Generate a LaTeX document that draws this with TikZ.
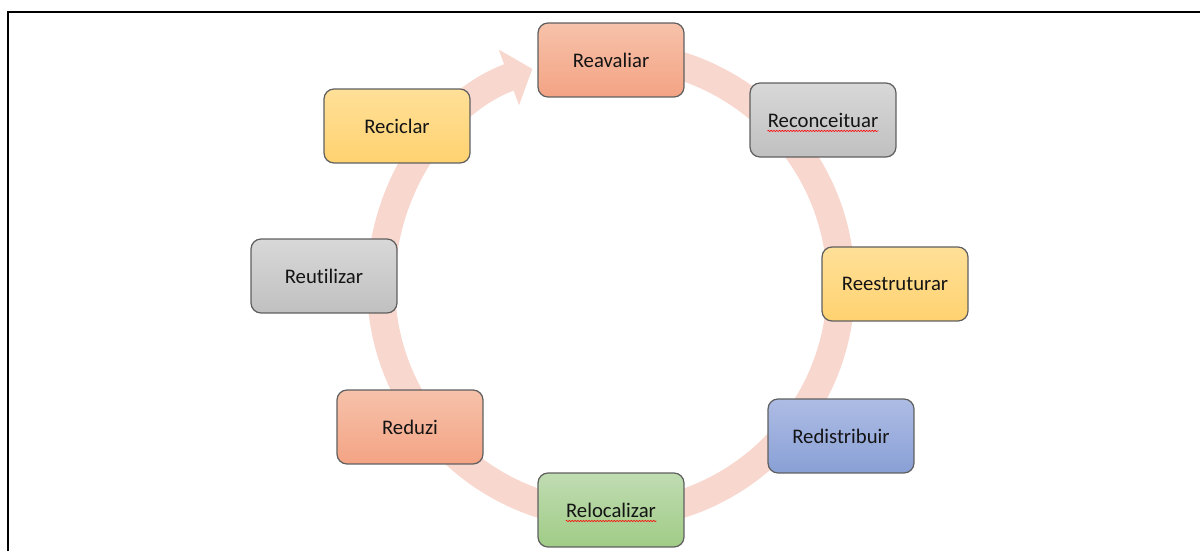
\documentclass[tikz,border=0pt]{standalone}
\usepackage{fontspec}
\setmainfont{Carlito}[Ligatures=NoCommon]
\usetikzlibrary{arrows.meta,decorations.pathmorphing}
\definecolor{ringc}{RGB}{248,216,206}
\definecolor{boxline}{RGB}{95,95,95}
\definecolor{orT}{RGB}{246,194,170}
\definecolor{orB}{RGB}{244,163,132}
\definecolor{grT}{RGB}{216,216,216}
\definecolor{grB}{RGB}{192,192,192}
\definecolor{goT}{RGB}{255,224,152}
\definecolor{goB}{RGB}{255,210,112}
\definecolor{blT}{RGB}{174,188,228}
\definecolor{blB}{RGB}{137,160,214}
\definecolor{gnT}{RGB}{192,220,178}
\definecolor{gnB}{RGB}{160,204,134}
\begin{document}
\begin{tikzpicture}[x=0.02cm,y=-0.02cm,
  box/.style={draw=boxline, line width=0.7pt, rounded corners=0.2cm,
    minimum width=2.92cm, minimum height=1.48cm, inner sep=0pt,
    font=\fontsize{11.8}{14}\selectfont, text={black!92}},
  txt/.style={inner sep=0pt, font=\fontsize{11.8}{14}\selectfont, text={black!92}},
  orbox/.style={box, top color=orT, bottom color=orB},
  grbox/.style={box, top color=grT, bottom color=grB},
  gobox/.style={box, top color=goT, bottom color=goB},
  blbox/.style={box, top color=blT, bottom color=blB},
  gnbox/.style={box, top color=gnT, bottom color=gnB},
  spell/.style={draw=red, line width=0.35pt, decorate,
    decoration={snake, amplitude=0.35pt, segment length=1.6pt}},
  ring/.style={draw=ringc, line width=0.56cm,
    -{Triangle[length=0.5cm, width=1.16cm, fill=ringc]}}]
\useasboundingbox (0,0) rectangle (1200,551);
\draw[line width=1.2pt] (8,551) -- (8,12) -- (1200,12);
\coordinate (ringstart) at (611,55);
\draw[ring] (ringstart) arc[start angle=-90, end angle=250, radius=230];
\node[orbox] (reav) at (611,60) {Reavaliar};
\node[grbox] (reco) at (823,120) {};
\node[txt] (recot) at (reco.center) {Reconceituar};
\draw[spell] ([yshift=-2.2pt]recot.base west) -- ([yshift=-2.2pt]recot.base east);
\node[gobox] (rees) at (895,284) {Reestruturar};
\node[blbox] (redi) at (841,436) {Redistribuir};
\node[gnbox] (relo) at (611,510) {};
\node[txt] (relot) at (relo.center) {Relocalizar};
\draw[spell] ([yshift=-2.2pt]relot.base west) -- ([yshift=-2.2pt]relot.base east);
\node[orbox] (redu) at (410,427) {Reduzi};
\node[grbox] (reut) at (324,276) {Reutilizar};
\node[gobox] (reci) at (397,126) {Reciclar};
\end{tikzpicture}
\end{document}
